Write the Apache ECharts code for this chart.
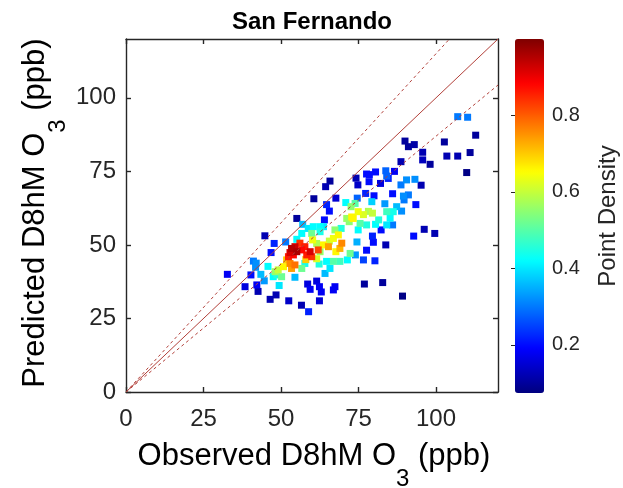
<!DOCTYPE html>
<html><head><meta charset="utf-8">
<script src="https://cdn.jsdelivr.net/npm/echarts@6/dist/echarts.min.js"></script>
<style>html,body{margin:0;padding:0;background:#fff}#c{width:623px;height:488px}</style>
</head><body><div id="c"></div>
<script>
// ---- data ----
const observed = [
107.0,110.2,112.8,90.0,91.1,93.0,102.7,95.7,103.5,107.0,111.0,95.7,98.1,88.7,109.9,
74.2,77.6,78.5,80.5,83.8,86.6,84.1,84.6,74.8,78.4,82.1,90.5,93.2,88.7,95.2,
65.8,64.4,60.6,67.7,77.3,80.0,86.0,89.5,91.1,89.7,93.5,74.6,64.7,65.6,55.1,64.0,
44.8,47.8,51.5,46.8,41.1,42.0,41.8,32.7,40.3,43.5,44.6,38.4,42.2,42.6,46.5,48.4,
52.5,56.6,58.9,58.6,61.5,59.4,62.4,63.0,67.4,66.9,62.4,76.9,82.8,89.2,
92.8,96.2,99.6,77.6,83.8,76.6,80.3,79.8,79.5,82.3,74.5,74.0,74.9,55.1,45.8,49.4,54.5,
70.9,72.6,73.9,74.9,73.3,71.2,76.6,78.2,79.5,83.5,79.3,84.1,86.2,87.3,88.9,85.2,84.1,86.0,
77.6,75.5,72.0,69.4,67.4,68.5,66.9,65.6,69.6,69.0,67.7,65.3,63.7,61.5,60.2,59.9,60.4,62.6,
58.8,56.7,62.6,63.7,64.7,65.8,64.2,66.9,69.0,72.3,71.4,62.3,61.5,62.6,
53.4,54.5,55.1,54.0,56.7,57.7,58.3,59.4,59.9,62.0,52.4,56.1,52.9,
52.9,53.4,54.5,51.8,50.8,49.1,48.1,50.2,48.6,47.5,56.7,57.7,58.0,72.8,81.5,80.5,57.0
];
const predicted = [
93.6,93.4,87.3,85.3,83.4,84.1,85.0,81.5,80.2,80.2,81.4,78.9,77.4,78.3,74.6,
72.7,74.1,73.9,74.8,75.2,75.0,73.4,72.6,70.4,71.5,70.9,72.1,72.3,70.4,70.3,
71.7,69.8,65.7,65.9,67.5,66.7,67.4,66.6,67.0,65.3,63.7,65.9,63.7,61.5,59.0,58.5,
53.1,50.5,51.0,47.4,44.5,43.8,42.4,40.0,39.8,40.0,37.8,35.8,36.4,34.2,31.5,33.0,
31.0,29.5,27.3,36.7,37.7,34.9,35.8,34.0,35.8,34.7,31.0,36.7,37.2,32.6,
53.0,55.3,53.9,48.2,50.0,44.9,44.6,50.9,53.0,55.1,51.0,46.6,55.1,51.9,42.7,36.2,39.0,
64.4,63.0,64.1,61.3,59.0,59.0,60.3,61.4,60.8,64.0,64.7,61.3,61.3,63.0,61.5,59.1,56.8,56.8,
56.8,57.3,57.9,55.6,55.1,53.4,52.2,51.3,50.6,48.8,47.7,49.4,50.0,50.5,51.7,53.9,56.2,56.2,
55.6,53.9,54.5,56.2,44.4,42.0,40.3,44.4,44.4,47.1,44.9,43.5,45.3,47.7,
48.8,49.4,47.7,46.6,48.3,49.4,46.6,47.7,46.0,48.3,46.0,50.6,47.4,
43.7,42.0,43.2,44.9,42.6,41.5,40.9,39.2,39.8,39.2,42.0,43.7,45.0,59.5,58.5,57.0,57.0
];
const density = [
0.30,0.30,0.10,0.10,0.10,0.11,0.10,0.12,0.12,0.12,0.10,0.13,0.10,0.12,0.08,
0.12,0.20,0.20,0.20,0.28,0.18,0.28,0.22,0.14,0.20,0.16,0.32,0.32,0.30,0.12,
0.10,0.12,0.10,0.15,0.22,0.20,0.20,0.32,0.30,0.30,0.20,0.28,0.22,0.20,0.10,0.20,
0.12,0.22,0.30,0.20,0.30,0.32,0.32,0.18,0.20,0.36,0.33,0.16,0.18,0.12,0.12,0.12,
0.14,0.12,0.22,0.16,0.16,0.18,0.18,0.18,0.18,0.18,0.15,0.10,0.10,0.08,
0.20,0.12,0.12,0.20,0.12,0.25,0.22,0.20,0.22,0.20,0.35,0.33,0.42,0.42,0.42,0.40,0.36,
0.42,0.55,0.50,0.64,0.66,0.56,0.62,0.58,0.60,0.33,0.38,0.48,0.44,0.36,0.32,0.42,0.40,0.30,
0.45,0.50,0.55,0.45,0.55,0.66,0.64,0.60,0.76,0.72,0.66,0.74,0.66,0.58,0.64,0.52,0.42,0.42,
0.40,0.42,0.44,0.40,0.42,0.40,0.36,0.50,0.48,0.52,0.42,0.45,0.62,0.56,
0.95,0.93,0.96,0.88,0.88,0.86,0.86,0.92,0.84,0.82,0.86,0.84,0.92,
0.76,0.74,0.78,0.70,0.66,0.60,0.56,0.52,0.45,0.42,0.52,0.44,0.70,0.66,0.45,0.42,0.36
];
const xTicks = [0, 25, 50, 75, 100];
const yTicks = [0, 25, 50, 75, 100];
const cbTicks = [0.2, 0.4, 0.6, 0.8];
const cbMin = 0.074, cbMax = 1.0;
const axMin = 0, axMax = 120;
const upperRatio = 1.15, lowerRatio = 1 / 1.15;
const jet = ['#00007F','#0000FF','#007FFF','#00FFFF','#7FFF7F','#FFFF00','#FF7F00','#FF0000','#7F0000'];

// ---- build ----
const pts = observed.map((x, i) => [x, predicted[i], density[i]]).sort((a, b) => a[2] - b[2]);
const FONT = "'Liberation Sans', Arial, Helvetica, sans-serif";
const AX = '#262626';
const lineRed = '#B2403A';

function frameAxis(pos, isX, showLabel) {
  return {
    type: 'value', gridIndex: 0, position: pos, min: axMin, max: axMax, interval: 25,
    axisLine: { show: true, onZero: false, lineStyle: { color: AX, width: 1.4 } },
    axisTick: { show: true, inside: true, length: 5, lineStyle: { color: AX, width: 1.4 },
                customValues: isX ? xTicks : yTicks },
    splitLine: { show: false },
    axisLabel: { show: showLabel, fontSize: 24, color: AX, fontFamily: FONT,
                 margin: isX ? 15 : 10, customValues: isX ? xTicks : yTicks,
                 formatter: v => (v > 100.5 ? '' : String(v)) }
  };
}

const richLabel = {
  a: { fontSize: 31, fontFamily: FONT, color: AX, lineHeight: 34, verticalAlign: 'top' },
  s: { fontSize: 24, fontFamily: FONT, color: AX, lineHeight: 50, verticalAlign: 'bottom' }
};

const chart = echarts.init(document.getElementById('c'), null, { renderer: 'canvas' });
chart.setOption({
  animation: false,
  backgroundColor: '#ffffff',
  textStyle: { fontFamily: FONT },
  grid: [
    { left: 126, top: 39, width: 372, height: 353, containLabel: false },
    { left: 515, top: 39, width: 29, height: 354, containLabel: false }
  ],
  xAxis: [
    frameAxis('bottom', true, true),
    frameAxis('top', true, false),
    { type: 'value', gridIndex: 1, min: 0, max: 1, show: false }
  ],
  yAxis: [
    frameAxis('left', false, true),
    frameAxis('right', false, false),
    { type: 'value', gridIndex: 1, position: 'right', min: cbMin, max: cbMax,
      axisLine: { show: false },
      axisTick: { show: true, inside: true, length: 4, customValues: cbTicks, lineStyle: { color: AX, width: 1 } },
      splitLine: { show: false },
      axisLabel: { show: true, customValues: cbTicks, fontSize: 20, color: AX, margin: 8, fontFamily: FONT,
                   formatter: v => Number(v).toFixed(1) } }
  ],
  visualMap: {
    type: 'continuous', seriesIndex: 0, dimension: 2, min: cbMin, max: cbMax,
    inRange: { color: jet }, orient: 'vertical', left: 515, top: 39,
    itemWidth: 29, itemHeight: 354, calculable: false, padding: 0, text: null,
    hoverLink: false
  },
  series: [
    { type: 'scatter', xAxisIndex: 0, yAxisIndex: 0, data: pts, symbol: 'rect', symbolSize: 7, z: 2,
      itemStyle: { opacity: 1 } },
    { type: 'line', xAxisIndex: 0, yAxisIndex: 0, data: [[axMin, axMin], [axMax, axMax]], symbol: 'none', z: 4,
      lineStyle: { color: lineRed, width: 1 } },
    { type: 'line', xAxisIndex: 0, yAxisIndex: 0, data: [[axMin, axMin], [axMax / upperRatio, axMax]], symbol: 'none', z: 4,
      lineStyle: { color: lineRed, width: 1, type: [3, 3] } },
    { type: 'line', xAxisIndex: 0, yAxisIndex: 0, data: [[axMin, axMin], [axMax, axMax * lowerRatio]], symbol: 'none', z: 4,
      lineStyle: { color: lineRed, width: 1, type: [3, 3] } },
    { type: 'scatter', xAxisIndex: 2, yAxisIndex: 2, data: [], silent: true }
  ],
  graphic: [
    { type: 'text', x: 312, y: 22, style: { text: 'San Fernando', font: 'bold 24px ' + FONT, fill: '#000',
      align: 'center', verticalAlign: 'middle' } },
    { type: 'text', x: 314, y: 441, style: {
      text: '{a|Observed D8hM O}{s|3}{a| (ppb)}', align: 'center', verticalAlign: 'top', rich: richLabel } },
    { type: 'text', x: 20, y: 213, rotation: Math.PI / 2, style: {
      text: '{a|Predicted D8hM O}{s|3}{a| (ppb)}', align: 'center', verticalAlign: 'top', rich: richLabel } },
    { type: 'text', x: 608, y: 216, rotation: Math.PI / 2, style: { text: 'Point Density', font: '24px ' + FONT,
      fill: AX, align: 'center', verticalAlign: 'middle' } }
  ]
});
</script></body></html>
